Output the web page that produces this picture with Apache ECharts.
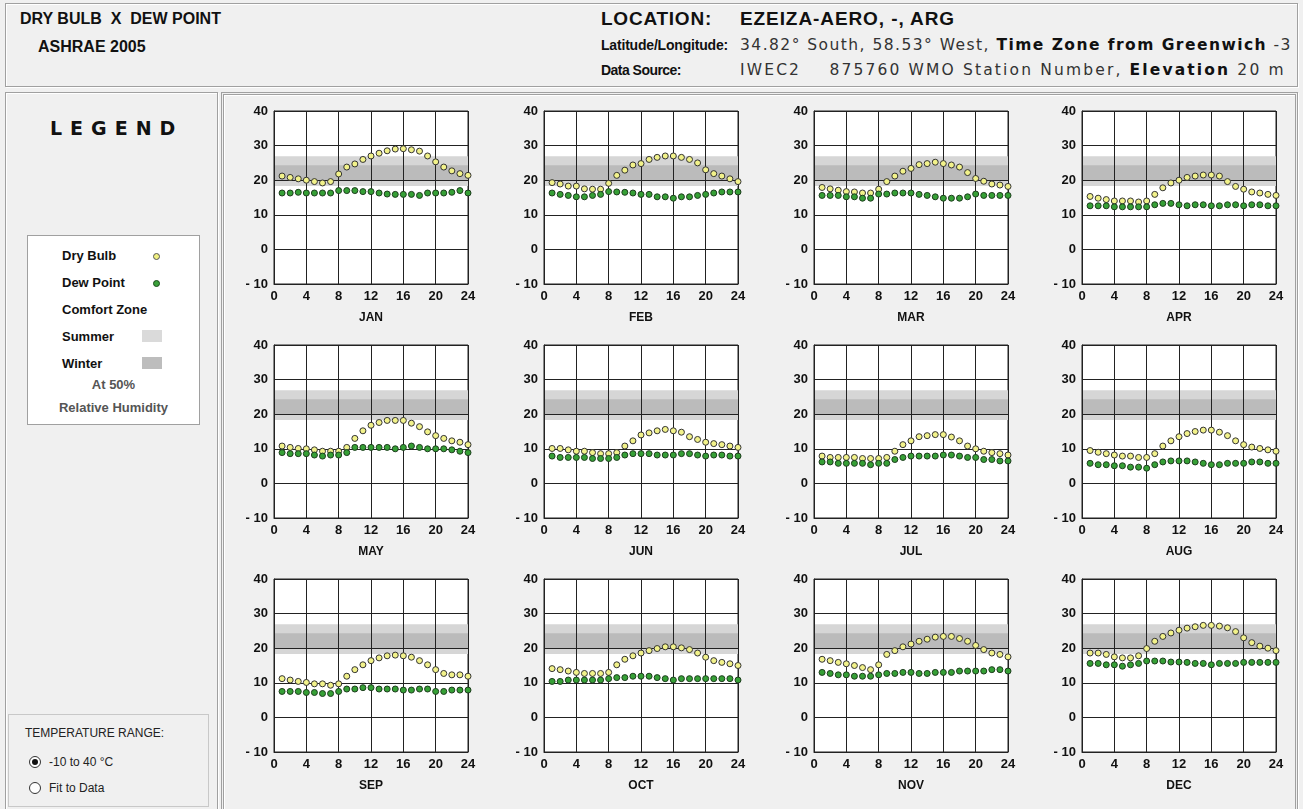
<!DOCTYPE html>
<html>
<head>
<meta charset="utf-8">
<script src="https://cdn.jsdelivr.net/npm/echarts@6/dist/echarts.min.js"></script>
<style>
  html, body { margin:0; padding:0; width:1303px; height:809px; background:#f0f0f0; overflow:hidden;
    font-family:"Liberation Sans", Arial, sans-serif; color:#111; }
  .panel { position:absolute; box-sizing:border-box; border:1px solid #a0a0a0; box-shadow: inset 1px 1px 0 #fff, 1px 1px 0 #fff; background:#f0f0f0; }
  .t { position:absolute; white-space:nowrap; line-height:1; }
  .b { font-weight:bold; }
  .v { font-family:"DejaVu Sans", sans-serif; }
  #chart { position:absolute; left:0; top:0; width:1303px; height:809px; z-index:5; }
  .radio { position:absolute; width:12px; height:12px; border:1px solid #333; border-radius:50%; background:#fff; box-sizing:border-box; }
  .radio.on::after { content:""; position:absolute; left:2px; top:2px; width:6px; height:6px; border-radius:50%; background:#111; }
</style>
</head>
<body>
<div class="panel" style="left:5px;top:3px;width:1293px;height:84px;"></div>
<div class="t b" style="left:20px;top:11px;font-size:16px;">DRY BULB&nbsp; X&nbsp; DEW POINT</div>
<div class="t b" style="left:38px;top:39px;font-size:16px;">ASHRAE 2005</div>
<div class="t b fit" data-w="111" style="left:601px;top:9px;font-size:19px;">LOCATION:</div>
<div class="t b fit" data-w="215" style="left:740px;top:9px;font-size:19px;">EZEIZA-AERO, -, ARG</div>
<div class="t b fit" data-w="127" style="left:601px;top:38px;font-size:14px;">Latitude/Longitude:</div>
<div class="t v fit" data-w="552" style="left:740px;top:38px;font-size:15.5px;color:#333;">34.82° South, 58.53° West, <b style="color:#111">Time Zone from Greenwich</b> -3</div>
<div class="t b fit" data-w="80" style="left:601px;top:63px;font-size:14px;">Data Source:</div>
<div class="t v fit" data-w="546" style="left:740px;top:63px;font-size:15.5px;color:#333;">IWEC2&nbsp;&nbsp;&nbsp; 875760 WMO Station Number, <b style="color:#111">Elevation</b> 20 m</div>

<div class="panel" style="left:5px;top:92px;width:213px;height:720px;"></div>
<div class="t b" style="left:50px;top:119px;font-size:19px;letter-spacing:8px;font-family:'DejaVu Sans',sans-serif;">LEGEND</div>
<div style="position:absolute;left:27px;top:235px;width:173px;height:190px;background:#fff;border:1px solid #a0a0a0;box-sizing:border-box;"></div>
<div class="t b" style="left:62px;top:249px;font-size:13px;">Dry Bulb</div>
<div style="position:absolute;left:153px;top:253px;width:5px;height:5px;border-radius:50%;background:#f0f080;border:1px solid #555;"></div>
<div class="t b" style="left:62px;top:276px;font-size:13px;">Dew Point</div>
<div style="position:absolute;left:153px;top:280px;width:5px;height:5px;border-radius:50%;background:#3aa03a;border:1px solid #1a4a1a;"></div>
<div class="t b" style="left:62px;top:303px;font-size:13px;">Comfort Zone</div>
<div class="t b" style="left:62px;top:330px;font-size:13px;">Summer</div>
<div style="position:absolute;left:142px;top:330px;width:20px;height:12px;background:#dadada;"></div>
<div class="t b" style="left:62px;top:357px;font-size:13px;">Winter</div>
<div style="position:absolute;left:142px;top:357px;width:20px;height:12px;background:#bdbdbd;"></div>
<div class="t b" style="left:27px;width:173px;text-align:center;top:378px;font-size:13px;color:#555;">At 50%</div>
<div class="t b" style="left:27px;width:173px;text-align:center;top:401px;font-size:13px;color:#555;">Relative Humidity</div>

<div style="position:absolute;left:8px;top:714px;width:201px;height:93px;border:1px solid #c8c8c8;box-sizing:border-box;"></div>
<div class="t" style="left:25px;top:727px;font-size:12px;color:#222;">TEMPERATURE RANGE:</div>
<div class="radio on" style="left:29px;top:756px;"></div>
<div class="t" style="left:49px;top:756px;font-size:12px;color:#222;">-10 to 40 °C</div>
<div class="radio" style="left:29px;top:782px;"></div>
<div class="t" style="left:49px;top:782px;font-size:12px;color:#222;">Fit to Data</div>

<div class="panel" style="left:221px;top:92px;width:1077px;height:720px;border:3px double #a0a0a0;"></div>

<div id="chart"></div>
<script>
const hours = [1,2,3,4,5,6,7,8,9,10,11,12,13,14,15,16,17,18,19,20,21,22,23,24];
const months = ['JAN','FEB','MAR','APR','MAY','JUN','JUL','AUG','SEP','OCT','NOV','DEC'];
const xTicks = [0,4,8,12,16,20,24];
const yTicks = [-10,0,10,20,30,40];
const summerZone = [18.3, 26.9];
const winterZone = [20, 24.3];

const dryJan = [21.2,20.8,20.4,20.0,19.6,19.2,19.6,21.8,23.8,24.7,26.0,27.0,27.8,28.5,29.0,29.1,28.8,28.4,27.0,25.3,23.8,22.7,21.9,21.4];
const dewJan = [16.3,16.3,16.5,16.3,16.3,16.3,16.3,17.0,17.0,17.0,16.7,16.7,16.3,16.0,15.9,15.9,15.9,15.6,16.3,16.3,16.3,16.5,17.0,16.3];
const dryFeb = [19.3,18.9,18.3,18.3,17.5,17.4,17.4,19.1,21.4,22.9,24.4,24.8,26.0,26.6,27.0,27.0,26.6,26.0,25.0,23.0,21.9,21.2,20.4,19.6];
const dewFeb = [16.3,15.9,15.6,15.2,15.2,15.6,15.9,16.7,16.6,16.5,16.3,15.9,15.9,15.2,15.2,14.8,15.2,15.2,15.6,15.9,16.3,16.6,16.6,16.6];
const dryMar = [17.9,17.5,17.1,16.7,16.6,16.3,16.3,17.4,19.6,21.2,22.6,23.4,24.5,24.8,25.2,24.8,24.4,23.8,22.2,20.5,19.7,18.9,18.6,18.2];
const dewMar = [15.6,15.6,15.6,15.2,15.2,14.8,14.8,16.0,16.0,16.3,16.3,16.3,15.9,15.6,15.2,14.8,14.8,14.8,15.2,16.0,15.6,15.6,15.6,15.6];
const dryApr = [15.3,14.8,14.4,14.0,14.0,14.0,13.7,14.0,15.9,17.8,19.2,20.0,20.8,21.2,21.5,21.5,21.2,19.6,18.2,17.4,16.6,16.3,15.9,15.6];
const dewApr = [12.6,12.6,12.6,12.3,12.3,12.3,12.3,12.3,12.9,13.3,13.3,12.9,12.6,12.9,12.9,12.6,12.6,12.9,12.9,12.6,12.9,12.9,12.6,12.6];
const dryMay = [10.8,10.4,10.1,10.0,9.7,9.3,9.3,9.3,10.4,13.0,15.2,16.8,17.6,18.2,18.2,18.2,17.4,16.4,14.9,13.8,13.0,12.3,11.9,11.2];
const dewMay = [8.9,8.6,8.6,8.6,8.2,7.9,8.2,8.2,8.9,10.4,10.4,10.4,10.4,10.4,10.0,10.4,10.8,10.4,10.0,10.0,10.0,9.7,9.3,8.9];
const dryJun = [10.1,10.1,9.7,9.3,9.3,8.9,8.6,8.6,8.9,10.8,12.3,14.0,14.6,15.2,15.6,15.2,14.8,13.5,12.7,11.9,11.5,11.2,10.8,10.4];
const dewJun = [7.9,7.5,7.5,7.5,7.5,7.2,7.2,7.2,7.5,8.2,8.6,8.6,8.6,8.2,8.2,8.2,8.6,8.6,8.2,7.9,8.2,8.2,7.9,7.9];
const dryJul = [7.9,7.5,7.5,7.5,7.5,7.2,7.2,7.2,7.5,9.3,11.2,12.3,13.5,13.8,14.1,14.1,13.4,12.3,10.8,10.0,9.3,8.9,8.6,8.2];
const dewJul = [6.2,6.2,5.8,5.8,5.8,5.8,5.4,5.8,5.8,6.9,7.5,7.9,7.9,7.9,7.9,8.2,8.2,7.9,7.5,7.5,6.9,6.9,6.5,6.5];
const dryAug = [9.5,9.0,8.6,8.2,7.9,7.9,7.5,7.5,8.6,10.8,12.3,13.5,14.4,15.0,15.4,15.4,14.8,13.8,12.3,11.2,10.5,10.1,9.7,9.3];
const dewAug = [5.8,5.4,5.4,5.1,5.1,4.7,4.7,4.4,5.4,6.2,6.5,6.5,6.5,6.2,5.8,5.4,5.4,5.8,5.8,5.8,6.2,6.2,5.8,5.8];
const drySep = [11.2,10.8,10.4,10.1,9.7,9.7,9.3,9.7,11.9,13.8,15.2,16.4,17.2,17.8,18.0,17.8,17.4,16.4,15.2,13.8,12.7,12.3,12.3,11.9];
const dewSep = [7.5,7.5,7.5,7.2,7.2,6.9,6.9,7.5,8.2,8.2,8.6,8.6,8.2,8.2,8.2,7.9,7.9,8.2,8.2,7.5,7.5,7.9,7.9,7.9];
const dryOct = [14.1,13.8,13.4,13.0,12.7,12.7,12.7,13.0,15.2,16.8,17.8,18.6,19.3,19.9,20.4,20.4,20.1,19.6,18.6,17.4,16.4,15.9,15.5,15.0];
const dewOct = [10.4,10.4,10.8,10.8,10.8,10.8,10.8,11.2,11.5,11.5,11.9,11.9,11.9,11.5,11.2,10.8,11.2,11.2,11.2,11.2,11.2,11.2,11.2,10.8];
const dryNov = [16.8,16.4,15.9,15.5,15.0,14.4,13.8,15.2,18.2,19.3,20.4,21.2,22.0,22.6,23.2,23.4,23.4,22.8,22.0,20.8,19.6,18.6,18.2,17.5];
const dewNov = [13.0,12.7,12.3,12.3,11.9,11.9,11.9,12.3,12.7,12.7,13.0,13.0,12.7,12.7,13.0,13.0,13.0,13.4,13.4,13.4,13.4,13.8,13.8,13.4];
const dryDec = [18.6,18.6,18.2,17.5,17.2,17.2,17.8,19.9,22.0,23.4,24.4,25.2,25.8,26.2,26.6,26.6,26.4,25.9,24.8,23.0,21.6,20.6,20.0,19.3];
const dewDec = [15.6,15.6,15.2,15.2,14.8,15.2,15.6,16.3,16.3,16.3,16.0,16.0,15.9,15.6,15.6,15.2,15.6,15.6,15.6,15.9,15.9,15.9,15.9,15.9];

const dryAll = [dryJan,dryFeb,dryMar,dryApr,dryMay,dryJun,dryJul,dryAug,drySep,dryOct,dryNov,dryDec];
const dewAll = [dewJan,dewFeb,dewMar,dewApr,dewMay,dewJun,dewJul,dewAug,dewSep,dewOct,dewNov,dewDec];

// fit header texts to their measured widths in the reference
document.querySelectorAll('.fit').forEach(el => {
  const target = +el.dataset.w;
  const w = el.getBoundingClientRect().width;
  const n = el.textContent.length;
  el.style.letterSpacing = ((target - w) / n).toFixed(2) + 'px';
});

const colLeft = [274, 544, 814, 1082];
const rowTop = [111, 345, 579];
const plotW = 194, plotH = 173;

const grids = [], xAxes = [], yAxes = [], series = [];
const labelFont = { fontFamily:'"Liberation Sans", Arial, sans-serif', fontWeight:'bold', fontSize:13, color:'#111' };
months.forEach((m, i) => {
  const r = Math.floor(i / 4), c = i % 4;
  grids.push({ left: colLeft[c], top: rowTop[r], width: plotW, height: plotH, show: true,
    backgroundColor: '#ffffff', borderColor: '#222', borderWidth: 1 });
  xAxes.push({ gridIndex: i, type: 'value', min: xTicks[0], max: xTicks[xTicks.length-1], interval: xTicks[1]-xTicks[0], z: 3,
    name: m, nameLocation: 'middle', nameGap: 28,
    nameTextStyle: Object.assign({}, labelFont, { fontSize: 12 }),
    axisLine: { show: true, onZero: false, lineStyle: { color: '#222', width: 1 } },
    axisTick: { show: false },
    axisLabel: Object.assign({ margin: 6 }, labelFont),
    splitLine: { show: true, lineStyle: { color: '#222', width: 1 } } });
  yAxes.push({ gridIndex: i, type: 'value', min: yTicks[0], max: yTicks[yTicks.length-1], interval: yTicks[1]-yTicks[0], z: 3,
    axisLine: { show: true, lineStyle: { color: '#222', width: 1 } },
    axisTick: { show: false },
    axisLabel: Object.assign({ margin: 6, formatter: v => v < 0 ? '- ' + Math.abs(v) : String(v) }, labelFont),
    splitLine: { show: true, lineStyle: { color: '#222', width: 1 } } });
  series.push({ type: 'line', xAxisIndex: i, yAxisIndex: i, data: [], z: 1, silent: true,
    markArea: { silent: true, data: [
      [{ yAxis: summerZone[0], itemStyle: { color: '#d6d6d6' } }, { yAxis: summerZone[1] }],
      [{ yAxis: winterZone[0], itemStyle: { color: '#bbbbbb' } }, { yAxis: winterZone[1] }]
    ] } });
  series.push({ type: 'scatter', xAxisIndex: i, yAxisIndex: i, z: 5, symbolSize: 6,
    data: hours.map((h, k) => [h, dryAll[i][k]]),
    itemStyle: { color: '#f2f28a', borderColor: '#333', borderWidth: 1, opacity: 1 } });
  series.push({ type: 'scatter', xAxisIndex: i, yAxisIndex: i, z: 6, symbolSize: 6,
    data: hours.map((h, k) => [h, dewAll[i][k]]),
    itemStyle: { color: '#36a036', borderColor: '#1d3d1d', borderWidth: 1, opacity: 1 } });
});

const chart = echarts.init(document.getElementById('chart'), null, { renderer: 'canvas' });
chart.setOption({ animation: false, backgroundColor: 'transparent', grid: grids, xAxis: xAxes, yAxis: yAxes, series: series });
</script>
</body>
</html>
